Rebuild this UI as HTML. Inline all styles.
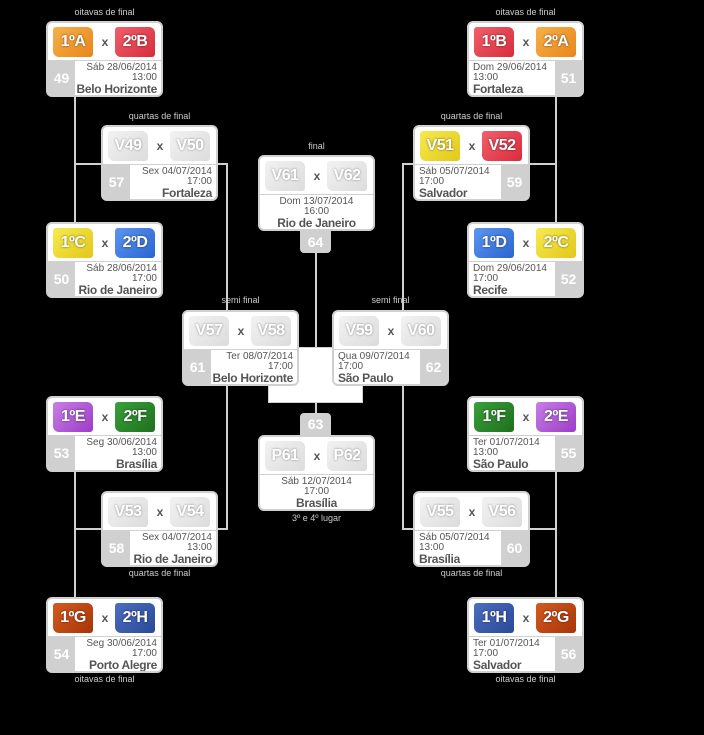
<!DOCTYPE html>
<html><head><meta charset="utf-8"><style>
body{margin:0;background:#000;width:704px;height:735px;position:relative;overflow:hidden;font-family:"Liberation Sans",Arial,sans-serif}
.l{position:absolute;background:#d0d0d0}
.c{position:absolute;width:113px;height:72px;background:#fff;border:2px solid #d0d0d0;border-radius:6px;overflow:hidden}
.t{position:absolute;left:0;top:0;width:113px;height:37px;border-bottom:1px solid #d0d0d0}
.f{position:absolute;top:4px;width:40px;height:30px;border-radius:3px 6px 3px 6px;color:#fff;font-weight:bold;font-size:16px;line-height:30px;text-align:center;text-shadow:0 0 2px rgba(0,0,0,.6);letter-spacing:-0.5px}
.f1{left:5px}.f2{left:67px}
.x{position:absolute;left:51px;top:12px;width:12px;text-align:center;font-size:12px;font-weight:bold;color:#555}
.n{position:absolute;top:38px;width:27px;height:34px;background:#d0d0d0;color:#fff;font-weight:bold;font-size:14px;line-height:34px;text-align:center}
.i{position:absolute;top:40px;font-size:10px;line-height:10px;color:#555}
.i b{font-size:12px;line-height:13px;display:block;letter-spacing:-0.3px;color:#555}
.L .n{left:0}.L .i{right:4px;text-align:right}
.R .n{right:0}.R .i{left:4px;text-align:left}
.C .i{left:0;right:0;text-align:center}
.o{background:linear-gradient(135deg,#f7b04a,#e8861a)}
.r{background:linear-gradient(135deg,#f0606a,#d82c3c)}
.y{background:linear-gradient(135deg,#f7ea50,#e2c818)}
.bl{background:linear-gradient(135deg,#5a96f0,#2c64d0)}
.p{background:linear-gradient(135deg,#c77ee6,#9c3cc8)}
.g{background:linear-gradient(135deg,#3aa03a,#1e701e)}
.br{background:linear-gradient(135deg,#d45a20,#a83408)}
.nv{background:linear-gradient(135deg,#4a6ec0,#2c4898)}
.w{background:linear-gradient(135deg,#f2f2f2,#dcdcdc);text-shadow:0 0 2px #888}
.lab{position:absolute;width:117px;text-align:center;font-size:9px;color:#ccc}
.nb{position:absolute;width:31px;height:22px;background:#d0d0d0;color:#fff;font-weight:bold;font-size:14px;line-height:22px;text-align:center}
</style></head><body>
<div class="l" style="left:74px;top:97px;width:2px;height:126px"></div>
<div class="l" style="left:74px;top:163px;width:28px;height:2px"></div>
<div class="l" style="left:217px;top:163px;width:11px;height:2px"></div>
<div class="l" style="left:226px;top:163px;width:2px;height:148px"></div>
<div class="l" style="left:226px;top:385px;width:2px;height:145px"></div>
<div class="l" style="left:217px;top:528px;width:11px;height:2px"></div>
<div class="l" style="left:74px;top:472px;width:2px;height:127px"></div>
<div class="l" style="left:74px;top:528px;width:28px;height:2px"></div>
<div class="l" style="left:555px;top:97px;width:2px;height:126px"></div>
<div class="l" style="left:529px;top:163px;width:28px;height:2px"></div>
<div class="l" style="left:402px;top:163px;width:12px;height:2px"></div>
<div class="l" style="left:402px;top:163px;width:2px;height:148px"></div>
<div class="l" style="left:402px;top:385px;width:2px;height:145px"></div>
<div class="l" style="left:402px;top:528px;width:12px;height:2px"></div>
<div class="l" style="left:529px;top:528px;width:28px;height:2px"></div>
<div class="l" style="left:555px;top:472px;width:2px;height:127px"></div>
<div class="l" style="left:315px;top:252px;width:2px;height:97px"></div>
<div class="l" style="left:315px;top:402px;width:2px;height:11px"></div>
<div style="position:absolute;left:268px;top:347px;width:93px;height:54px;background:#fff;border:1px solid #d0d0d0"></div>

<div class="lab" style="left:46px;top:7px">oitavas de final</div>
<div class="lab" style="left:467px;top:7px">oitavas de final</div>
<div class="lab" style="left:101px;top:111px">quartas de final</div>
<div class="lab" style="left:413px;top:111px">quartas de final</div>
<div class="lab" style="left:258px;top:141px">final</div>
<div class="lab" style="left:182px;top:295px">semi final</div>
<div class="lab" style="left:332px;top:295px">semi final</div>
<div class="lab" style="left:258px;top:513px">3º e 4º lugar</div>
<div class="lab" style="left:101px;top:568px">quartas de final</div>
<div class="lab" style="left:413px;top:568px">quartas de final</div>
<div class="lab" style="left:46px;top:674px">oitavas de final</div>
<div class="lab" style="left:467px;top:674px">oitavas de final</div>

<div class="c L" style="left:46px;top:21px"><div class="t"><div class="f f1 o">1ºA</div><div class="x">x</div><div class="f f2 r">2ºB</div></div><div class="n">49</div><div class="i">Sáb 28/06/2014<br>13:00<b>Belo Horizonte</b></div></div>
<div class="c L" style="left:46px;top:222px"><div class="t"><div class="f f1 y">1ºC</div><div class="x">x</div><div class="f f2 bl">2ºD</div></div><div class="n">50</div><div class="i">Sáb 28/06/2014<br>17:00<b>Rio de Janeiro</b></div></div>
<div class="c L" style="left:46px;top:396px"><div class="t"><div class="f f1 p">1ºE</div><div class="x">x</div><div class="f f2 g">2ºF</div></div><div class="n">53</div><div class="i">Seg 30/06/2014<br>13:00<b>Brasília</b></div></div>
<div class="c L" style="left:46px;top:597px"><div class="t"><div class="f f1 br">1ºG</div><div class="x">x</div><div class="f f2 nv">2ºH</div></div><div class="n">54</div><div class="i">Seg 30/06/2014<br>17:00<b>Porto Alegre</b></div></div>
<div class="c L" style="left:101px;top:125px"><div class="t"><div class="f f1 w">V49</div><div class="x">x</div><div class="f f2 w">V50</div></div><div class="n">57</div><div class="i">Sex 04/07/2014<br>17:00<b>Fortaleza</b></div></div>
<div class="c L" style="left:101px;top:491px"><div class="t"><div class="f f1 w">V53</div><div class="x">x</div><div class="f f2 w">V54</div></div><div class="n">58</div><div class="i">Sex 04/07/2014<br>13:00<b>Rio de Janeiro</b></div></div>
<div class="c L" style="left:182px;top:310px"><div class="t"><div class="f f1 w">V57</div><div class="x">x</div><div class="f f2 w">V58</div></div><div class="n">61</div><div class="i">Ter 08/07/2014<br>17:00<b>Belo Horizonte</b></div></div>

<div class="c R" style="left:467px;top:21px"><div class="t"><div class="f f1 r">1ºB</div><div class="x">x</div><div class="f f2 o">2ºA</div></div><div class="n">51</div><div class="i">Dom 29/06/2014<br>13:00<b>Fortaleza</b></div></div>
<div class="c R" style="left:467px;top:222px"><div class="t"><div class="f f1 bl">1ºD</div><div class="x">x</div><div class="f f2 y">2ºC</div></div><div class="n">52</div><div class="i">Dom 29/06/2014<br>17:00<b>Recife</b></div></div>
<div class="c R" style="left:467px;top:396px"><div class="t"><div class="f f1 g">1ºF</div><div class="x">x</div><div class="f f2 p">2ºE</div></div><div class="n">55</div><div class="i">Ter 01/07/2014<br>13:00<b>São Paulo</b></div></div>
<div class="c R" style="left:467px;top:597px"><div class="t"><div class="f f1 nv">1ºH</div><div class="x">x</div><div class="f f2 br">2ºG</div></div><div class="n">56</div><div class="i">Ter 01/07/2014<br>17:00<b>Salvador</b></div></div>
<div class="c R" style="left:413px;top:125px"><div class="t"><div class="f f1 y">V51</div><div class="x">x</div><div class="f f2 r">V52</div></div><div class="n">59</div><div class="i">Sáb 05/07/2014<br>17:00<b>Salvador</b></div></div>
<div class="c R" style="left:413px;top:491px"><div class="t"><div class="f f1 w">V55</div><div class="x">x</div><div class="f f2 w">V56</div></div><div class="n">60</div><div class="i">Sáb 05/07/2014<br>13:00<b>Brasília</b></div></div>
<div class="c R" style="left:332px;top:310px"><div class="t"><div class="f f1 w">V59</div><div class="x">x</div><div class="f f2 w">V60</div></div><div class="n">62</div><div class="i">Qua 09/07/2014<br>17:00<b>São Paulo</b></div></div>

<div class="c C" style="left:258px;top:155px"><div class="t"><div class="f f1 w">V61</div><div class="x">x</div><div class="f f2 w">V62</div></div><div class="i">Dom 13/07/2014<br>16:00<b>Rio de Janeiro</b></div></div>
<div class="nb" style="left:300px;top:231px;border-radius:0 0 4px 4px">64</div>
<div class="nb" style="left:300px;top:413px;border-radius:4px 4px 0 0">63</div>
<div class="c C" style="left:258px;top:435px"><div class="t"><div class="f f1 w">P61</div><div class="x">x</div><div class="f f2 w">P62</div></div><div class="i">Sáb 12/07/2014<br>17:00<b>Brasília</b></div></div>
</body></html>
